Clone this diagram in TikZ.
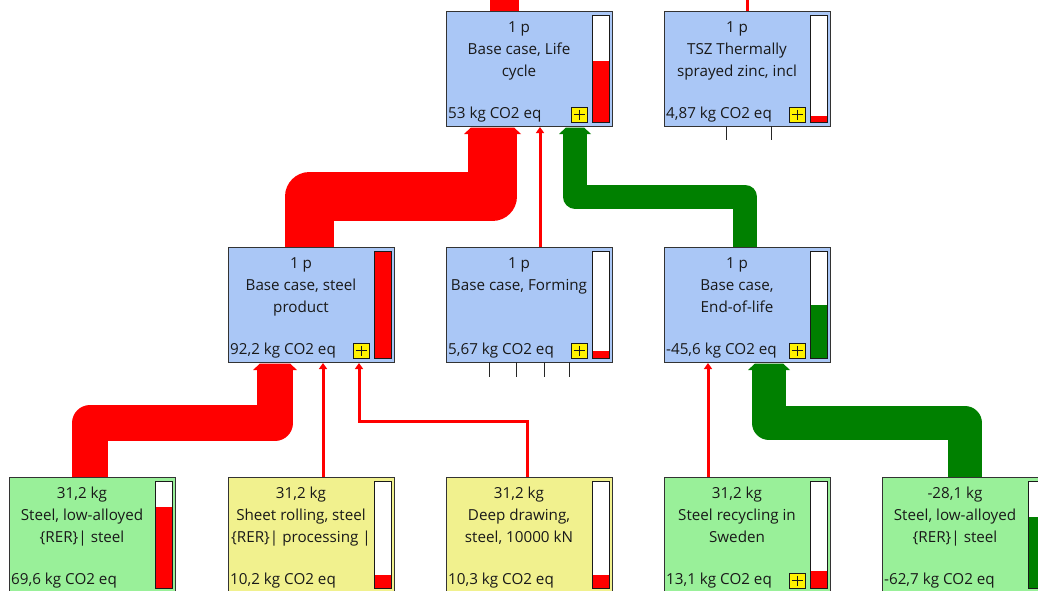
\documentclass[tikz,border=0pt]{standalone}
\usepackage{fontspec}
\setmainfont{Open Sans}
\usepackage{tikz}
\usetikzlibrary{calc,arrows.meta}
\definecolor{boxblue}{RGB}{170,199,246}
\definecolor{boxgreen}{RGB}{153,240,153}
\definecolor{boxyellow}{RGB}{241,241,142}
\definecolor{flowgreen}{RGB}{0,128,0}
\tikzset{
  proc/.style      = {draw=black!80, line width=0.9pt, minimum width=166pt, minimum height=115pt, anchor=north west, inner sep=0pt, outer sep=0pt},
  procblue/.style  = {proc, fill=boxblue},
  procgreen/.style = {proc, fill=boxgreen},
  procyel/.style   = {proc, fill=boxyellow},
  txt/.style       = {font=\fontsize{15.2}{18}\selectfont, text=black!90, anchor=base, inner sep=0pt},
  amt/.style       = {txt, anchor=base west},
  bar/.style       = {draw=black!90, fill=white, line width=0.9pt},
  plusbox/.style   = {draw=black!90, fill=yellow, line width=0.8pt, minimum width=16pt, minimum height=15pt, inner sep=0pt,
                      path picture={\draw[line width=0.9pt]
                        ([yshift=-2.5pt]path picture bounding box.north) -- ([yshift=2.5pt]path picture bounding box.south)
                        ([xshift=2.5pt]path picture bounding box.west) -- ([xshift=-2.5pt]path picture bounding box.east);}},
  flow/.style      = {line width=#1pt, line join=round},
  thinred/.style   = {draw=red, line width=3pt, -{Triangle[length=6pt,width=8pt]}},
  stub/.style      = {draw=black!85, line width=1pt},
  pics/flowhead/.style = {code={\fill (-#1/2-4,8) -- (-#1/2+3,1.5) -- (#1/2-3,1.5) -- (#1/2+4,8) -- cycle;}},
}

\begin{document}
\begin{tikzpicture}[x=1pt,y=-1pt]
  \useasboundingbox (0,0) rectangle (1038,590);
  \clip (0,0) rectangle (1038,590);

  % top row
  \node[procblue] (life) at (446,11) {};
  \node[txt] (life-1) at (519,32) {1 p};
  \node[txt] (life-2) at (519,54) {Base case, Life};
  \node[txt] (life-3) at (519,76) {cycle};
  \node[amt] (life-v) at (448,118) {53 kg CO2 eq};
  \draw[bar] (592,15) rectangle (609,122);
  \fill[red] (592.5,61) rectangle (608.5,121.5);
  \node[plusbox] (life-plus) at (579,114.5) {};

  \node[procblue] (tsz) at (664,11) {};
  \node[txt] (tsz-1) at (737,32) {1 p};
  \node[txt] (tsz-2) at (737,54) {TSZ Thermally};
  \node[txt] (tsz-3) at (737,76) {sprayed zinc, incl};
  \node[amt] (tsz-v) at (666,118) {4,87 kg CO2 eq};
  \draw[bar] (810,15) rectangle (827,122);
  \fill[red] (810.5,116) rectangle (826.5,121.5);
  \node[plusbox] (tsz-plus) at (797,114.5) {};

  % middle row
  \node[procblue] (steelprod) at (228,247) {};
  \node[txt] (steelprod-1) at (301,268) {1 p};
  \node[txt] (steelprod-2) at (301,290) {Base case, steel};
  \node[txt] (steelprod-3) at (301,312) {product};
  \node[amt] (steelprod-v) at (230,354) {92,2 kg CO2 eq};
  \draw[bar] (374,251) rectangle (391,358);
  \fill[red] (374.5,251.5) rectangle (390.5,357.5);
  \node[plusbox] (steelprod-plus) at (361,350.5) {};

  \node[procblue] (forming) at (446,247) {};
  \node[txt] (forming-1) at (519,268) {1 p};
  \node[txt] (forming-2) at (519,290) {Base case, Forming};
  \node[amt] (forming-v) at (448,354) {5,67 kg CO2 eq};
  \draw[bar] (592,251) rectangle (609,358);
  \fill[red] (592.5,351) rectangle (608.5,357.5);
  \node[plusbox] (forming-plus) at (579,350.5) {};

  \node[procblue] (eol) at (664,247) {};
  \node[txt] (eol-1) at (737,268) {1 p};
  \node[txt] (eol-2) at (737,290) {Base case,};
  \node[txt] (eol-3) at (737,312) {End-of-life};
  \node[amt] (eol-v) at (666,354) {-45,6 kg CO2 eq};
  \draw[bar] (810,251) rectangle (827,358);
  \fill[flowgreen] (810.5,305) rectangle (826.5,357.5);
  \node[plusbox] (eol-plus) at (797,350.5) {};

  % bottom row
  \node[procgreen] (lowalloy) at (9,477) {};
  \node[txt] (lowalloy-1) at (82,498) {31,2 kg};
  \node[txt] (lowalloy-2) at (82,520) {Steel, low-alloyed};
  \node[txt] (lowalloy-3) at (82,542) {\{RER\}| steel};
  \node[amt] (lowalloy-v) at (11,584) {69,6 kg CO2 eq};
  \draw[bar] (155,481) rectangle (172,588);
  \fill[red] (155.5,507) rectangle (171.5,587.5);

  \node[procyel] (rolling) at (228,477) {};
  \node[txt] (rolling-1) at (301,498) {31,2 kg};
  \node[txt] (rolling-2) at (301,520) {Sheet rolling, steel};
  \node[txt] (rolling-3) at (301,542) {\{RER\}| processing |};
  \node[amt] (rolling-v) at (230,584) {10,2 kg CO2 eq};
  \draw[bar] (374,481) rectangle (391,588);
  \fill[red] (374.5,575) rectangle (390.5,587.5);

  \node[procyel] (drawing) at (446,477) {};
  \node[txt] (drawing-1) at (519,498) {31,2 kg};
  \node[txt] (drawing-2) at (519,520) {Deep drawing,};
  \node[txt] (drawing-3) at (519,542) {steel, 10000 kN};
  \node[amt] (drawing-v) at (448,584) {10,3 kg CO2 eq};
  \draw[bar] (592,481) rectangle (609,588);
  \fill[red] (592.5,575) rectangle (608.5,587.5);

  \node[procgreen] (recycling) at (664,477) {};
  \node[txt] (recycling-1) at (737,498) {31,2 kg};
  \node[txt] (recycling-2) at (737,520) {Steel recycling in};
  \node[txt] (recycling-3) at (737,542) {Sweden};
  \node[amt] (recycling-v) at (666,584) {13,1 kg CO2 eq};
  \draw[bar] (810,481) rectangle (827,588);
  \fill[red] (810.5,571) rectangle (826.5,587.5);
  \node[plusbox] (recycling-plus) at (797,580.5) {};

  \node[procgreen] (lowalloy2) at (882,477) {};
  \node[txt] (lowalloy2-1) at (955,498) {-28,1 kg};
  \node[txt] (lowalloy2-2) at (955,520) {Steel, low-alloyed};
  \node[txt] (lowalloy2-3) at (955,542) {\{RER\}| steel};
  \node[amt] (lowalloy2-v) at (884,584) {-62,7 kg CO2 eq};
  \draw[bar] (1028,481) rectangle (1045,588);
  \fill[flowgreen] (1028.5,517) rectangle (1044.5,587.5);

  % flows to the parents above
  \draw[flow=29, red] ($(life.north west)+(58.5,0)$) -- ++(0,-15);
  \draw[red, line width=3pt] (tsz.north) -- ++(0,-15);
  \draw[stub] ($(tsz.south west)+(62,0)$) -- ++(0,14);
  \draw[stub] ($(tsz.south west)+(107,0)$) -- ++(0,14);
  \foreach \dx in {43,70,98,123}
    \draw[stub] ($(forming.south west)+(\dx,0)$) -- ++(0,15);

  % into life cycle
  \draw[flow=49, red] ($(steelprod.north west)+(81.5,0)$) -- ++(0,-50.5) -| ($(life.south west)+(46.5,8)$);
  \pic[red] at ($(life.south west)+(46.5,0)$) {flowhead=49};
  \draw[thinred] ($(forming.north west)+(94,0)$) -- ($(life.south west)+(94,1)$);
  \draw[flow=24, flowgreen] ($(eol.north west)+(81,0)$) -- ++(0,-50.5) -| ($(life.south west)+(129,8)$);
  \pic[flowgreen] at ($(life.south west)+(129,0)$) {flowhead=24};

  % into steel product
  \draw[flow=36, red] ($(lowalloy.north west)+(81,0)$) -- ++(0,-54) -| ($(steelprod.south west)+(47,8)$);
  \pic[red] at ($(steelprod.south west)+(47,0)$) {flowhead=36};
  \draw[thinred] ($(rolling.north west)+(95,0)$) -- ($(steelprod.south west)+(95,1)$);
  \draw[thinred] ($(drawing.north west)+(81,0)$) -- ++(0,-56) -| ($(steelprod.south west)+(131,1)$);

  % into end-of-life
  \draw[thinred] ($(recycling.north west)+(44,0)$) -- ($(eol.south west)+(44,1)$);
  \draw[flow=34, flowgreen] ($(lowalloy2.north west)+(83,0)$) -- ++(0,-54) -| ($(eol.south west)+(105,8)$);
  \pic[flowgreen] at ($(eol.south west)+(105,0)$) {flowhead=34};
\end{tikzpicture}
\end{document}
